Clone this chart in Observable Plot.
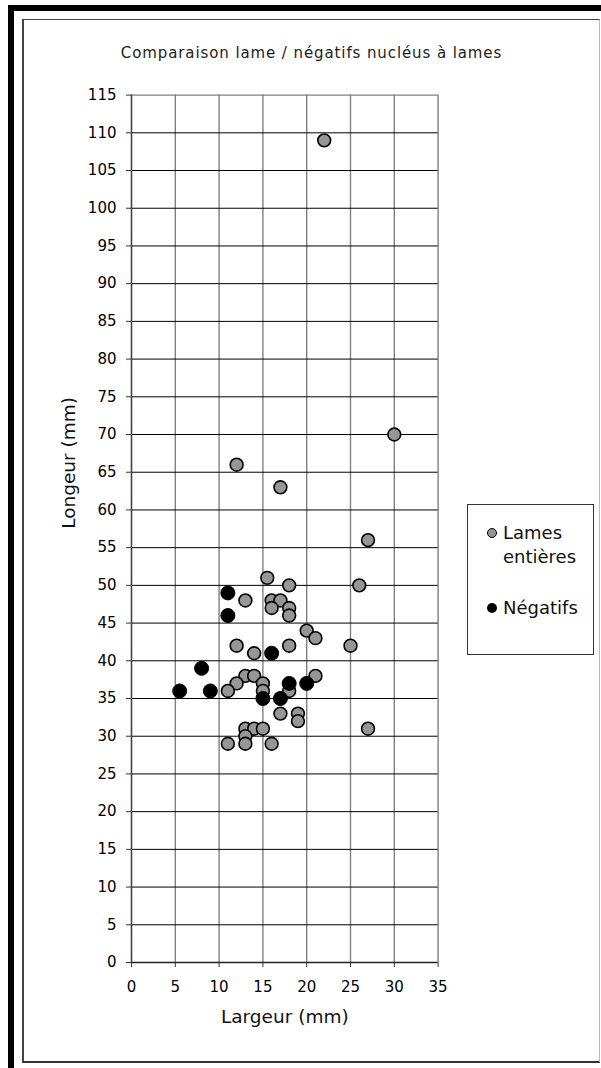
<!DOCTYPE html>
<html>
<head>
<meta charset="utf-8">
<script src="https://cdn.jsdelivr.net/npm/d3@7"></script>
<script src="https://cdn.jsdelivr.net/npm/@observablehq/plot@0.6"></script>
<style>
  html, body { margin: 0; padding: 0; background: #fff; }
  #wrap { position: relative; width: 601px; height: 1068px; overflow: hidden; font-family: "DejaVu Sans", sans-serif; }
  .outer { position: absolute; left: 8px; top: 5px; width: 593px; height: 1063px; box-sizing: border-box;
           border-left: 6px solid #000; border-top: 6px solid #000; }
  .inner { position: absolute; left: 22px; top: 19px; width: 578px; height: 1044px; box-sizing: border-box;
           border-top: 1px solid #444; border-left: 2px solid #444; border-bottom: 2px solid #333; border-right: 1px solid #bbb; }
  #chart { position: absolute; left: 0; top: 0; }
  .title { position: absolute; left: 23px; width: 577px; top: 43px; line-height: 20px; text-align: center;
           font-size: 15px; letter-spacing: 0.9px; color: #222; }
  .legend { position: absolute; left: 467px; top: 504px; width: 127px; height: 151px; box-sizing: border-box;
            border: 1px solid #333; background: #fff; font-size: 18px; color: #111; }
  .legend .mk { position: absolute; left: 19px; width: 10px; height: 10px; border-radius: 50%; box-sizing: border-box; }
  .legend .tx { position: absolute; left: 35px; line-height: 23px; white-space: nowrap; }
</style>
</head>
<body>
<div id="wrap">
  <div class="outer"></div>
  <div class="inner"></div>
  <div id="chart"></div>
  <div class="title" id="title"></div>
  <div class="legend" id="legend"></div>
</div>
<script>
// ---- data ----
const titleText = "Comparaison lame / négatifs nucléus à lames";
const xLabel = "Largeur (mm)";
const yLabel = "Longeur (mm)";
const seriesNames = ["Lames", "entières", "Négatifs"];

const lamesLargeur = [22,30,12,17,27,15.5,18,26,13,16,17,16,18,18,20,21,12,18,25,14,13,14,21,12,15,11,15,18,17,19,19,13,14,15,27,13,11,13,16];
const lamesLongueur = [109,70,66,63,56,51,50,50,48,48,48,47,47,46,44,43,42,42,42,41,38,38,38,37,37,36,36,36,33,33,32,31,31,31,31,30,29,29,29];

const negLargeur = [11,11,16,8,5.5,9,18,20,15,17];
const negLongueur = [49,46,41,39,36,36,37,37,35,35];

const xTicks = [0,5,10,15,20,25,30,35];
const yTicks = [0,5,10,15,20,25,30,35,40,45,50,55,60,65,70,75,80,85,90,95,100,105,110,115];

// ---- build tables ----
const lames = lamesLargeur.map((x, i) => ({x, y: lamesLongueur[i]}));
const neg = negLargeur.map((x, i) => ({x, y: negLongueur[i]}));

document.getElementById("title").textContent = titleText;

const chart = Plot.plot({
  width: 601,
  height: 1068,
  marginLeft: 131,
  marginRight: 163.4,
  marginTop: 94.6,
  marginBottom: 106,
  style: { fontFamily: "DejaVu Sans, sans-serif", fontSize: "15px", background: "transparent", overflow: "visible", color: "#000" },
  x: { domain: [0, 35] },
  y: { domain: [0, 115] },
  marks: [
    Plot.ruleX(xTicks.filter(d => d > 0), { stroke: "#808080", strokeWidth: 1.4, strokeOpacity: 1 }),
    Plot.ruleY(yTicks.filter(d => d > 0 && d < 115), { stroke: "#000", strokeWidth: 1, strokeOpacity: 1 }),
    Plot.ruleY([115], { stroke: "#808080", strokeWidth: 1.2, strokeOpacity: 1 }),
    Plot.ruleX([0], { stroke: "#444", strokeWidth: 1.6, strokeOpacity: 1 }),
    Plot.ruleY([0], { stroke: "#222", strokeWidth: 1.4, strokeOpacity: 1 }),
    Plot.axisX({ ticks: xTicks, tickSize: 5, tickPadding: 14, label: null, fontSize: 15, stroke: "#333" }),
    Plot.axisY({ ticks: yTicks, tickSize: 5, tickPadding: 10, label: null, fontSize: 15, stroke: "#333" }),
    Plot.text([xLabel], { frameAnchor: "bottom", dy: 55, lineAnchor: "middle", fontSize: 18.5, fill: "#111" }),
    Plot.text([yLabel], { frameAnchor: "left", dx: -62, rotate: -90, lineAnchor: "middle", fontSize: 18.5, fill: "#111" }),
    Plot.dot(lames, { x: "x", y: "y", r: 6.4, fill: "#969696", stroke: "#000", strokeWidth: 1.6 }),
    Plot.dot(neg, { x: "x", y: "y", r: 7, fill: "#000", stroke: "#000", strokeWidth: 1 })
  ]
});
document.getElementById("chart").appendChild(chart);

// ---- legend ----
const lg = document.getElementById("legend");
lg.innerHTML =
  '<div class="mk" style="top:22.5px;background:#969696;border:1.6px solid #000"></div>' +
  '<div class="tx" style="top:16px">' + seriesNames[0] + '</div>' +
  '<div class="tx" style="top:39.5px">' + seriesNames[1] + '</div>' +
  '<div class="mk" style="top:97.5px;background:#000"></div>' +
  '<div class="tx" style="top:91px">' + seriesNames[2] + '</div>';
</script>
</body>
</html>
